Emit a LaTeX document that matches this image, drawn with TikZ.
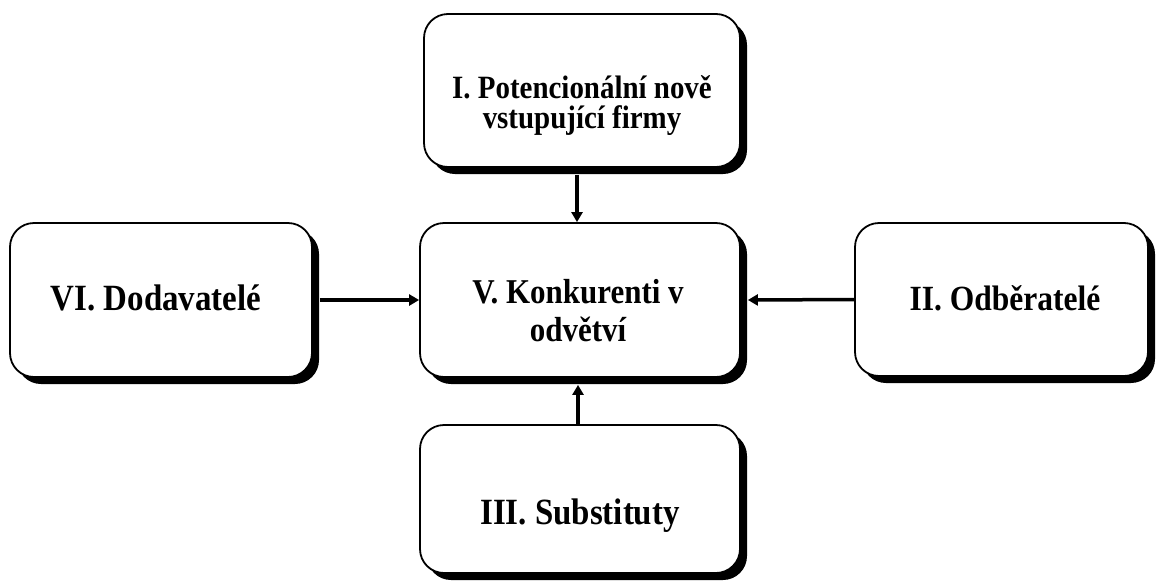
\documentclass[tikz,border=0pt]{standalone}
\usepackage{fontspec}
\setmainfont{Liberation Serif}
% slightly condensed, taller bold serif for the captions
\newfontfamily\captionfont[FakeStretch=0.89,BoldFont={Liberation Serif Bold}]{Liberation Serif}
\usetikzlibrary{shadows,arrows.meta}
\newcommand\capsize[2]{\captionfont\bfseries\fontsize{#1}{#2}\selectfont}
\begin{document}
\begin{tikzpicture}[x=1pt,y=-1pt,
  force/.style={draw=black, line width=1.8pt, fill=white, rounded corners=24pt,
    inner sep=0pt,
    drop shadow={shadow xshift=7pt, shadow yshift=-7pt, fill=black, opacity=1}},
  caption/.style={inner sep=0pt, align=center, anchor=base},
  link/.style={line width=3.5pt, -{Triangle[length=10pt,width=11pt]}}]
\useasboundingbox (0,0) rectangle (1158,581);

% the five forces
\node[force, minimum width=316pt, minimum height=153pt] (entrants) at (582,90.5) {};
\node[force, minimum width=320pt, minimum height=154pt] (rivals) at (580,300) {};
\node[force, minimum width=302pt, minimum height=154pt] (suppliers) at (161,300) {};
\node[force, minimum width=293pt, minimum height=153pt] (buyers) at (1001.5,299.5) {};
\node[force, minimum width=320pt, minimum height=148pt] (substitutes) at (580,499) {};

% captions (base anchor sits on the last line)
\node[caption, font=\capsize{32.5}{30}] (entrants-text) at (582,128)
  {I. Potencionální nově\\vstupující firmy};
\node[caption, font=\capsize{34.8}{38}] (rivals-text) at (578,341)
  {V. Konkurenti v\\odvětví};
\node[caption, font=\capsize{37}{40}] (suppliers-text) at (156,310) {VI. Dodavatelé};
\node[caption, font=\capsize{35.4}{40}] (buyers-text) at (1005,310) {II. Odběratelé};
\node[caption, font=\capsize{37}{40}] (substitutes-text) at (580,524) {III. Substituty};

% pressures acting on the industry
\draw[link] ([xshift=-5pt,yshift=-7pt]entrants.south) -- ([xshift=-3pt]rivals.north);
\draw[link] ([xshift=7pt]suppliers.east) -- (rivals.west);
\draw[link] (buyers.west) -- ([xshift=7pt]rivals.east);
\draw[link] ([xshift=-2pt]substitutes.north) -- ([xshift=-2pt,yshift=-7pt]rivals.south);
\end{tikzpicture}
\end{document}
